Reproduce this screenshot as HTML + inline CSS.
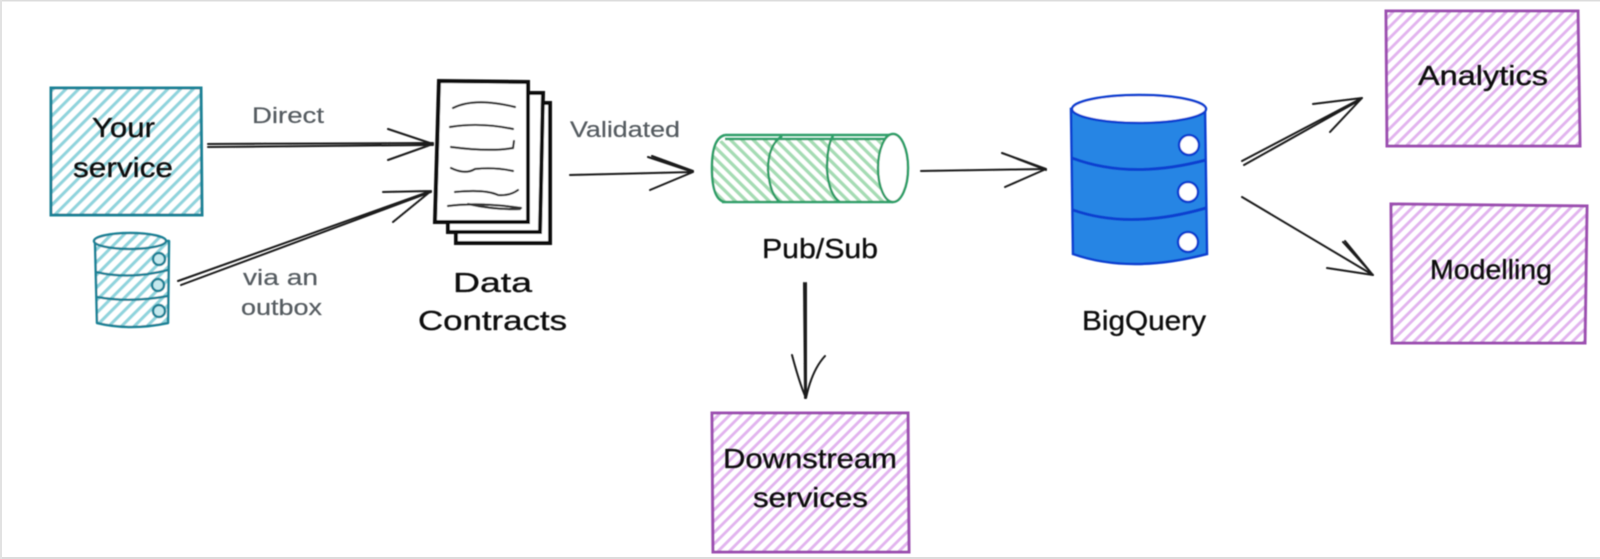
<!DOCTYPE html>
<html>
<head>
<meta charset="utf-8">
<style>
html,body{margin:0;padding:0;background:#fff;width:1600px;height:559px;overflow:hidden}
svg{display:block}
text{font-family:"Liberation Sans",sans-serif;fill:#111;stroke:#111;stroke-width:.35}
.lab{fill:#555b60;stroke:#555b60;stroke-width:.2;font-size:22px}
.big{font-size:28px}
.ln{fill:none;stroke:#1a1a1a;stroke-width:2;stroke-linecap:round;stroke-linejoin:round}
.doc{fill:#fff;stroke:#111;stroke-width:4;stroke-linejoin:miter}
.dl{fill:none;stroke:#333;stroke-width:2.2;stroke-linecap:round}
.t{stroke:#1c8296;stroke-width:2.5;stroke-linejoin:round}
.p{stroke:#9c4fb0;stroke-width:3}
.g{stroke:#2f9e68;stroke-width:2.5}
.b{stroke:#0a3fd0;stroke-width:2.5}
</style>
</head>
<body>
<svg width="1600" height="559" viewBox="0 0 1600 559" xmlns="http://www.w3.org/2000/svg">
<defs>
<pattern id="ht" width="9" height="9" patternUnits="userSpaceOnUse" patternTransform="rotate(45)"><rect width="9" height="9" fill="#fff"/><rect width="3.2" height="9" fill="#8fd4dd"/></pattern>
<pattern id="hp" width="8" height="8" patternUnits="userSpaceOnUse" patternTransform="rotate(45)"><rect width="8" height="8" fill="#fff"/><rect width="3" height="8" fill="#e2b4ef"/></pattern>
<pattern id="hg" width="8" height="8" patternUnits="userSpaceOnUse" patternTransform="rotate(-45)"><rect width="8" height="8" fill="#fff"/><rect width="3.4" height="8" fill="#a5dcb4"/></pattern>
<filter id="s" x="-2%" y="-2%" width="104%" height="104%"><feGaussianBlur stdDeviation="0.55"/></filter>
</defs>
<rect width="1600" height="559" fill="#fff"/>
<g filter="url(#s)">
<!-- Your service -->
<path d="M51 88L201 88L202 215L51 215Z" fill="url(#ht)" stroke="#1c8296" stroke-width="3"/>
<!-- small database -->
<path d="M95 241L97 323Q130 331 168 323L169 241Z" fill="url(#ht)" class="t"/>
<ellipse cx="130" cy="241" rx="36" ry="8" fill="url(#ht)" class="t"/>
<path d="M96 272Q130 280 168 270M97 297Q130 303 168 296" fill="none" class="t"/>
<circle cx="159" cy="259" r="6" fill="#c5e9ee" class="t"/>
<circle cx="158" cy="285" r="6" fill="#c5e9ee" class="t"/>
<circle cx="159" cy="311" r="6" fill="#c5e9ee" class="t"/>
<!-- arrows left -->
<path d="M208 144L433 143M208 147L433 145M388 129L433 144L388 160" class="ln"/>
<path d="M178 281L431 191M181 285L431 192M383 192L431 191L393 222" class="ln"/>
<!-- documents -->
<path d="M456 232L456 243L550 243L550 103L540 103" class="doc"/>
<path d="M448 222L448 232L540 232L543 93L528 93" class="doc"/>
<path d="M439 81L528 82L528 222L435 222Z" class="doc"/>
<path d="M453 108Q475 97 515 107M450 127Q480 122 513 129M451 147Q490 152 513 148L514 141M451 168Q465 175 475 169Q495 167 513 171M455 192Q485 189 498 195Q510 196 518 190M448 206Q480 202 521 208M468 204Q495 210 520 209" class="dl"/>
<!-- validated arrow -->
<path d="M570 175L693 172M648 157L693 172L650 190M652 156L693 171" class="ln"/>
<!-- pubsub cylinder -->
<path d="M725 139L885 139L893 202L725 202Q712 200 712 168Q712 142 725 139Z" fill="url(#hg)"/>
<path d="M725 135L893 135M725 139L885 139M722 202L893 202M725 135Q712 138 712 168Q712 200 725 202M782 136Q768 145 768 170Q770 195 780 202M833 136Q827 145 827 170Q829 195 840 202" fill="none" class="g"/>
<ellipse cx="893" cy="168" rx="15" ry="34" fill="#fff" class="g"/>
<!-- arrows -->
<path d="M806 283L806 398M804 283L805 398M792 355Q800 385 806 398Q812 370 825 356" class="ln"/>
<path d="M921 171L1046 169M1002 153L1046 169L1005 187M1005 154L1046 170" class="ln"/>
<!-- Downstream -->
<path d="M712 413L908 413L909 552L713 552Z" fill="url(#hp)" class="p"/>
<!-- BigQuery -->
<path d="M1071 109L1073 254Q1130 274 1207 254L1205 109Z" fill="#2585e4" class="b"/>
<ellipse cx="1139" cy="109" rx="67" ry="14" fill="#fff" class="b"/>
<path d="M1072 158Q1130 180 1206 160M1073 210Q1130 230 1206 208" fill="none" class="b" style="stroke-width:3"/>
<circle cx="1189" cy="145" r="10" fill="#fff" class="b"/>
<circle cx="1188" cy="192" r="10" fill="#fff" class="b"/>
<circle cx="1188" cy="242" r="10" fill="#fff" class="b"/>
<!-- right arrows -->
<path d="M1242 161L1362 98M1244 165L1360 100M1313 104L1362 98L1330 132" class="ln"/>
<path d="M1242 197L1373 275M1343 242L1373 275L1327 268M1345 241L1372 274" class="ln"/>
<!-- purple boxes -->
<path d="M1386 11L1578 11L1580 146L1387 146Z" fill="url(#hp)" class="p"/>
<path d="M1391 204L1587 206L1585 343L1392 343Z" fill="url(#hp)" class="p"/>
</g>
<g filter="url(#s)">
<text x="92" y="137" class="big" textLength="63" lengthAdjust="spacingAndGlyphs">Your</text>
<text x="73" y="177" class="big" textLength="100" lengthAdjust="spacingAndGlyphs">service</text>
<text x="252" y="123" class="lab" textLength="72" lengthAdjust="spacingAndGlyphs">Direct</text>
<text x="243" y="285" class="lab" textLength="75" lengthAdjust="spacingAndGlyphs">via an</text>
<text x="241" y="315" class="lab" textLength="81" lengthAdjust="spacingAndGlyphs">outbox</text>
<text x="453" y="292" class="big" textLength="79" lengthAdjust="spacingAndGlyphs">Data</text>
<text x="418" y="330" class="big" textLength="149" lengthAdjust="spacingAndGlyphs">Contracts</text>
<text x="570" y="137" class="lab" textLength="110" lengthAdjust="spacingAndGlyphs">Validated</text>
<text x="762" y="258" class="big" textLength="116" lengthAdjust="spacingAndGlyphs">Pub/Sub</text>
<text x="723" y="468" class="big" textLength="174" lengthAdjust="spacingAndGlyphs">Downstream</text>
<text x="753" y="507" class="big" textLength="115" lengthAdjust="spacingAndGlyphs">services</text>
<text x="1082" y="330" class="big" textLength="124" lengthAdjust="spacingAndGlyphs">BigQuery</text>
<text x="1418" y="85" class="big" textLength="130" lengthAdjust="spacingAndGlyphs">Analytics</text>
<text x="1430" y="279" class="big" textLength="122" lengthAdjust="spacingAndGlyphs">Modelling</text>
</g>
<!-- frame -->
<rect x="0" y="0" width="1600" height="1.5" fill="#dcdcdc"/>
<rect x="0" y="557" width="1600" height="2" fill="#dcdcdc"/>
<rect x="0" y="0" width="2" height="559" fill="#e2e2e2"/>
</svg>
</body>
</html>
